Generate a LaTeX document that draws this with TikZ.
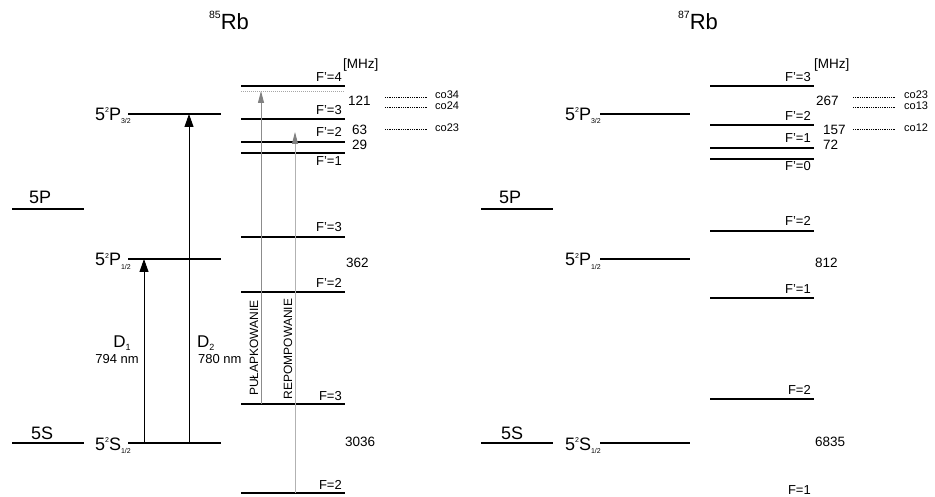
\documentclass[tikz,border=0pt]{standalone}
\usepackage{fontspec}
\setmainfont{Liberation Sans}
\usetikzlibrary{arrows.meta}
\newcommand{\stateterm}[3]{#1\raisebox{8pt}{\fontsize{7}{7}\selectfont 2}#2\raisebox{-3pt}{\fontsize{7}{7}\selectfont #3}}
\newcommand{\isotope}[1]{\raisebox{11pt}{\fontsize{10.5}{10.5}\selectfont #1}Rb}
\begin{document}
\begin{tikzpicture}[x=1pt,y=-1pt,
lvl/.style={line width=1.3pt},
flab/.style={anchor=base east,inner sep=0pt,font=\fontsize{13}{13}\selectfont},
freq/.style={anchor=base west,inner sep=0pt,font=\fontsize{13.5}{13.5}\selectfont},
colab/.style={anchor=base west,inner sep=0pt,font=\fontsize{11}{11}\selectfont},
term/.style={anchor=base east,inner sep=0pt,font=\fontsize{18}{18}\selectfont},
shell/.style={anchor=base west,inner sep=0pt,font=\fontsize{18}{18}\selectfont},
title/.style={anchor=base,inner sep=0pt,font=\fontsize{22}{22}\selectfont},
dline/.style={line width=0.8pt,dash pattern=on 0.8pt off 1pt},
trans/.style={line width=0.9pt,-{Triangle[length=13pt,width=9pt]}},
laser/.style={line width=0.9pt,-{Triangle[length=12pt,width=6pt,color=black!50]}}
]
\useasboundingbox (0,0) rectangle (935,497);
% 85Rb
\node[title] (t85) at (229,30) {\isotope{85}};
\draw[lvl] (12,209) coordinate (a5Pl) -- (84,209) coordinate (a5Pr);
\node[shell] (a5Plab) at (29,204) {5P};
\draw[lvl] (12,443) coordinate (a5Sl) -- (84,443) coordinate (a5Sr);
\node[shell] (a5Slab) at (31,439) {5S};
\draw[lvl] (128,114) coordinate (aP32l) -- (221,114) coordinate (aP32r);
\node[term] (aP32lab) at (131,121) {\stateterm{5}{P}{3/2}};
\draw[lvl] (128,259) coordinate (aP12l) -- (221,259) coordinate (aP12r);
\node[term] (aP12lab) at (131,266) {\stateterm{5}{P}{1/2}};
\draw[lvl] (128,443) coordinate (aS12l) -- (221,443) coordinate (aS12r);
\node[term] (aS12lab) at (131,450) {\stateterm{5}{S}{1/2}};
% D lines
\coordinate (d1s) at (144,443); \coordinate (d1e) at (144,259);
\coordinate (d2s) at (189,443); \coordinate (d2e) at (189,114);
\draw[trans] (d1s) -- (d1e);
\draw[trans] (d2s) -- (d2e);
\node[anchor=base,inner sep=0pt,font=\fontsize{17}{17}\selectfont] (d1lab) at (122,347) {D\raisebox{-3pt}{\fontsize{9}{9}\selectfont 1}};
\node[anchor=base,inner sep=0pt,font=\fontsize{13}{13}\selectfont] (d1nm) at (117,363) {794 nm};
\node[anchor=base west,inner sep=0pt,font=\fontsize{17}{17}\selectfont] (d2lab) at (197,347) {D\raisebox{-3pt}{\fontsize{9}{9}\selectfont 2}};
\node[anchor=base west,inner sep=0pt,font=\fontsize{13}{13}\selectfont] (d2nm) at (198,363) {780 nm};
% hyperfine levels
\draw[lvl] (241,86) -- (345,86);
\draw[black!35,line width=0.8pt,dash pattern=on 1pt off 1pt] (241,91) coordinate (aco) -- (345,91);
\draw[lvl] (241,119) -- (345,119);
\draw[lvl] (241,142) -- (345,142);
\draw[lvl] (241,153) -- (345,153);
\draw[lvl] (241,237) -- (345,237);
\draw[lvl] (241,292) -- (345,292);
\draw[lvl] (241,404) -- (345,404);
\draw[lvl] (241,493) -- (345,493);
\node[flab] (aF4) at (342,82) {F’=4};
\node[flab] (aF3) at (342,115) {F’=3};
\node[flab] (aF2) at (342,137) {F’=2};
\node[flab] (aF1) at (342,166) {F’=1};
\node[flab] (aF3b) at (342,232) {F’=3};
\node[flab] (aF2b) at (342,288) {F’=2};
\node[flab] (aG3) at (342,400) {F=3};
\node[flab] (aG2) at (342,489) {F=2};
\node[freq] (aMHz) at (343,69) {[MHz]};
\node[freq] (a121) at (348,106) {121};
\node[freq] (a63) at (352,135) {63};
\node[freq] (a29) at (352,150) {29};
\node[freq] (a362) at (346,268) {362};
\node[freq] (a3036) at (345,446) {3036};
\draw[dline] (385,97) -- (428,97);
\draw[dline] (385,107.5) -- (428,107.5);
\draw[dline] (385,129) -- (428,129);
\node[colab] (aco34) at (435,99) {co34};
\node[colab] (aco24) at (435,110) {co24};
\node[colab] (aco23) at (435,132) {co23};
% lasers
\coordinate (pumps) at (261,404); \coordinate (pumpe) at (261,91);
\coordinate (reps) at (295,493); \coordinate (repe) at (295,132);
\draw[laser,black!45] (pumps) -- (pumpe);
\draw[laser,black!30] (reps) -- (repe);
\node[rotate=90,inner sep=0pt,font=\fontsize{12}{12}\selectfont] (pumplab) at (254,348) {PUŁAPKOWANIE};
\node[rotate=90,inner sep=0pt,font=\fontsize{12}{12}\selectfont] (replab) at (288,349) {REPOMPOWANIE};
% 87Rb
\begin{scope}[xshift=470pt]
\node[title] (t87) at (228,30) {\isotope{87}};
\draw[lvl] (11,209) coordinate (b5Pl) -- (83,209) coordinate (b5Pr);
\node[shell] (b5Plab) at (29,204) {5P};
\draw[lvl] (11,443) coordinate (b5Sl) -- (83,443) coordinate (b5Sr);
\node[shell] (b5Slab) at (31,439) {5S};
\draw[lvl] (130,114) coordinate (bP32l) -- (220,114) coordinate (bP32r);
\node[term] (bP32lab) at (131,121) {\stateterm{5}{P}{3/2}};
\draw[lvl] (130,259) coordinate (bP12l) -- (220,259) coordinate (bP12r);
\node[term] (bP12lab) at (131,266) {\stateterm{5}{P}{1/2}};
\draw[lvl] (130,443) coordinate (bS12l) -- (220,443) coordinate (bS12r);
\node[term] (bS12lab) at (131,450) {\stateterm{5}{S}{1/2}};
\draw[lvl] (240,86) -- (344,86);
\draw[lvl] (240,125) -- (344,125);
\draw[lvl] (240,148) -- (344,148);
\draw[lvl] (240,159) -- (344,159);
\draw[lvl] (240,231) -- (344,231);
\draw[lvl] (240,298) -- (344,298);
\draw[lvl] (240,399) -- (344,399);
\node[flab] (bF3) at (341,82) {F’=3};
\node[flab] (bF2) at (341,121) {F’=2};
\node[flab] (bF1) at (341,143) {F’=1};
\node[flab] (bF0) at (341,171) {F’=0};
\node[flab] (bF2b) at (341,226) {F’=2};
\node[flab] (bF1b) at (341,294) {F’=1};
\node[flab] (bG2) at (341,394) {F=2};
\node[flab] (bG1) at (341,494) {F=1};
\node[freq] (bMHz) at (344,69) {[MHz]};
\node[freq] (b267) at (346,106) {267};
\node[freq] (b157) at (353,135) {157};
\node[freq] (b72) at (353,150) {72};
\node[freq] (b812) at (345,268) {812};
\node[freq] (b6835) at (345,446) {6835};
\draw[dline] (383,97) -- (425,97);
\draw[dline] (383,107.5) -- (425,107.5);
\draw[dline] (383,129) -- (425,129);
\node[colab] (bco23) at (434,99) {co23};
\node[colab] (bco13) at (434,110) {co13};
\node[colab] (bco12) at (434,132) {co12};
\end{scope}
\end{tikzpicture}
\end{document}
